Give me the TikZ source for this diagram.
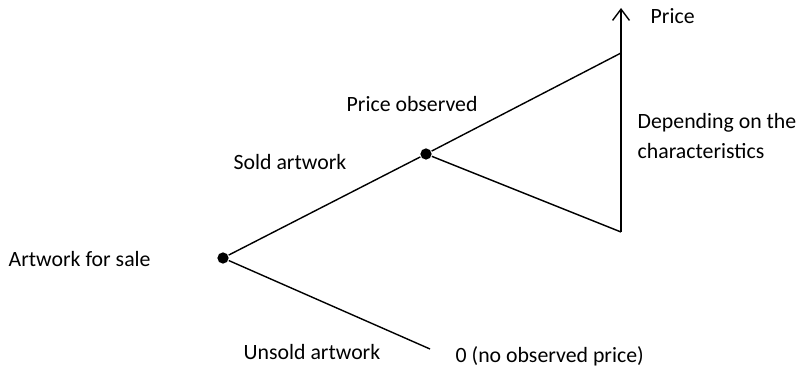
\documentclass[tikz,border=0pt]{standalone}
\usepackage{fontspec}
\setmainfont{Carlito}
\usetikzlibrary{arrows.meta}

\begin{document}
\begin{tikzpicture}[
                    -,
                    x=0.025cm, y=-0.025cm,
                    line width=1pt,
                    dot/.style={circle, fill, inner sep=0pt, minimum size=8pt},
                    lbl/.style={anchor=west, inner sep=0pt, align=left,
                                font=\fontsize{15.5}{21.3}\selectfont}
                ]
                \useasboundingbox (0,0) rectangle (800,372);

                \node[dot] (forsale) at (223,258) {} ;
                \node[dot] (sold) at (426,154) {} ;
                \coordinate (high) at (621,53) ;
                \coordinate (low) at (621,232) ;
                \coordinate (axis) at (621,8) ;
                \coordinate (unsold) at (430,349) ;

                \node[lbl] (forsaletxt) at (8,259) {Artwork for sale} ;
                \node[lbl] (soldtxt) at (233,162) {Sold artwork} ;
                \node[lbl] (observedtxt) at (346,104) {Price observed} ;
                \node[lbl] (unsoldtxt) at (243,352) {Unsold artwork} ;
                \node[lbl] (zerotxt) at (455,356) {0 (no observed price)} ;
                \node[lbl] (pricetxt) at (650,16) {Price} ;
                \node[lbl] (charstxt) at (637,136) {Depending on the\\characteristics} ;

                \path
                (forsale) edge (sold)
                (forsale) edge (unsold)
                (sold) edge (high)
                (sold) edge (low)
                (low) edge[-{Straight Barb[length=8pt,width=12pt]}] (axis)
                ;
            \end{tikzpicture}
\end{document}
